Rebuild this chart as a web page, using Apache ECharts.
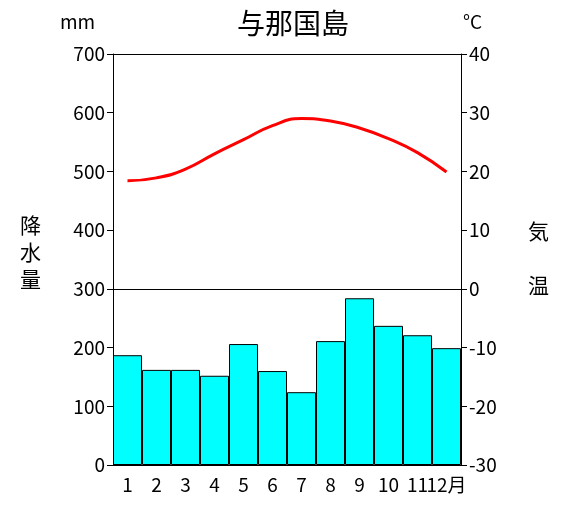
<!DOCTYPE html>
<html><head><meta charset="utf-8">
<script src="https://cdn.jsdelivr.net/npm/echarts@6/dist/echarts.min.js"></script>
<style>html,body{margin:0;padding:0;background:#fff}#c{width:571px;height:517px}</style>
</head><body><div id="c"></div>
<script>
const months = ['1','2','3','4','5','6','7','8','9','10','11','12月'];
const precipitation = [187,162,162,152,206,160,124,211,284,237,221,199];
const temperature = [18.4,18.9,20.4,23.0,25.4,27.8,29.0,28.6,27.4,25.6,23.2,19.9];
const leftTicks = [0,100,200,300,400,500,600,700];
const rightTicks = [-30,-20,-10,0,10,20,30,40];
const chart = echarts.init(document.getElementById('c'));
const font = '"Noto Sans CJK JP", sans-serif';
chart.setOption({
  animation:false,
  textStyle:{fontFamily:font},
  title:{text:'与那国島',left:288,top:4,textAlign:'center',textStyle:{fontSize:28,fontWeight:'normal',color:'#000',fontFamily:font}},
  grid:{left:113,right:110,top:54,bottom:52},
  graphic:[
    {type:'text',left:60,top:12,style:{text:'mm',fontSize:19,fill:'#000',fontFamily:font}},
    {type:'text',left:463,top:12,style:{text:'°C',fontSize:19,fill:'#000',fontFamily:font}},
    {type:'text',left:20,top:212,style:{text:'降\n水\n量',fontSize:21,lineHeight:27,fill:'#000',fontFamily:font}},
    {type:'text',left:528,top:218,style:{text:'気\n\n温',fontSize:21,lineHeight:27,fill:'#000',fontFamily:font}}
  ],
  xAxis:{type:'category',data:months,axisTick:{show:false},
    axisLine:{lineStyle:{color:'#000'}},
    axisLabel:{color:'#000',fontSize:19,fontFamily:font,interval:0,margin:10}},
  yAxis:[
    {type:'value',min:0,max:700,interval:100,splitLine:{show:false},
     axisLine:{show:true,lineStyle:{color:'#000'}},axisTick:{show:true,length:6,lineStyle:{color:'#000'}},
     axisLabel:{color:'#000',fontSize:19,fontFamily:font}},
    {type:'value',min:-30,max:40,interval:10,splitLine:{show:false},
     axisLine:{show:true,lineStyle:{color:'#000'}},axisTick:{show:true,length:6,lineStyle:{color:'#000'}},
     axisLabel:{color:'#000',fontSize:19,fontFamily:font}}
  ],
  series:[
    {type:'bar',data:precipitation,barCategoryGap:'0%',
     itemStyle:{color:'#00ffff',borderColor:'#000',borderWidth:1},
     markLine:{silent:true,symbol:'none',label:{show:false},lineStyle:{color:'#000',type:'solid',width:1},data:[{yAxis:300}]}},
    {type:'line',yAxisIndex:1,data:temperature,smooth:true,symbol:'none',
     lineStyle:{color:'#ff0000',width:3}},
    {type:'line',data:[],markLine:{silent:true,symbol:'none',label:{show:false},lineStyle:{color:'#000',type:'solid',width:1},data:[{yAxis:700}]}}
  ]
});
</script></body></html>
